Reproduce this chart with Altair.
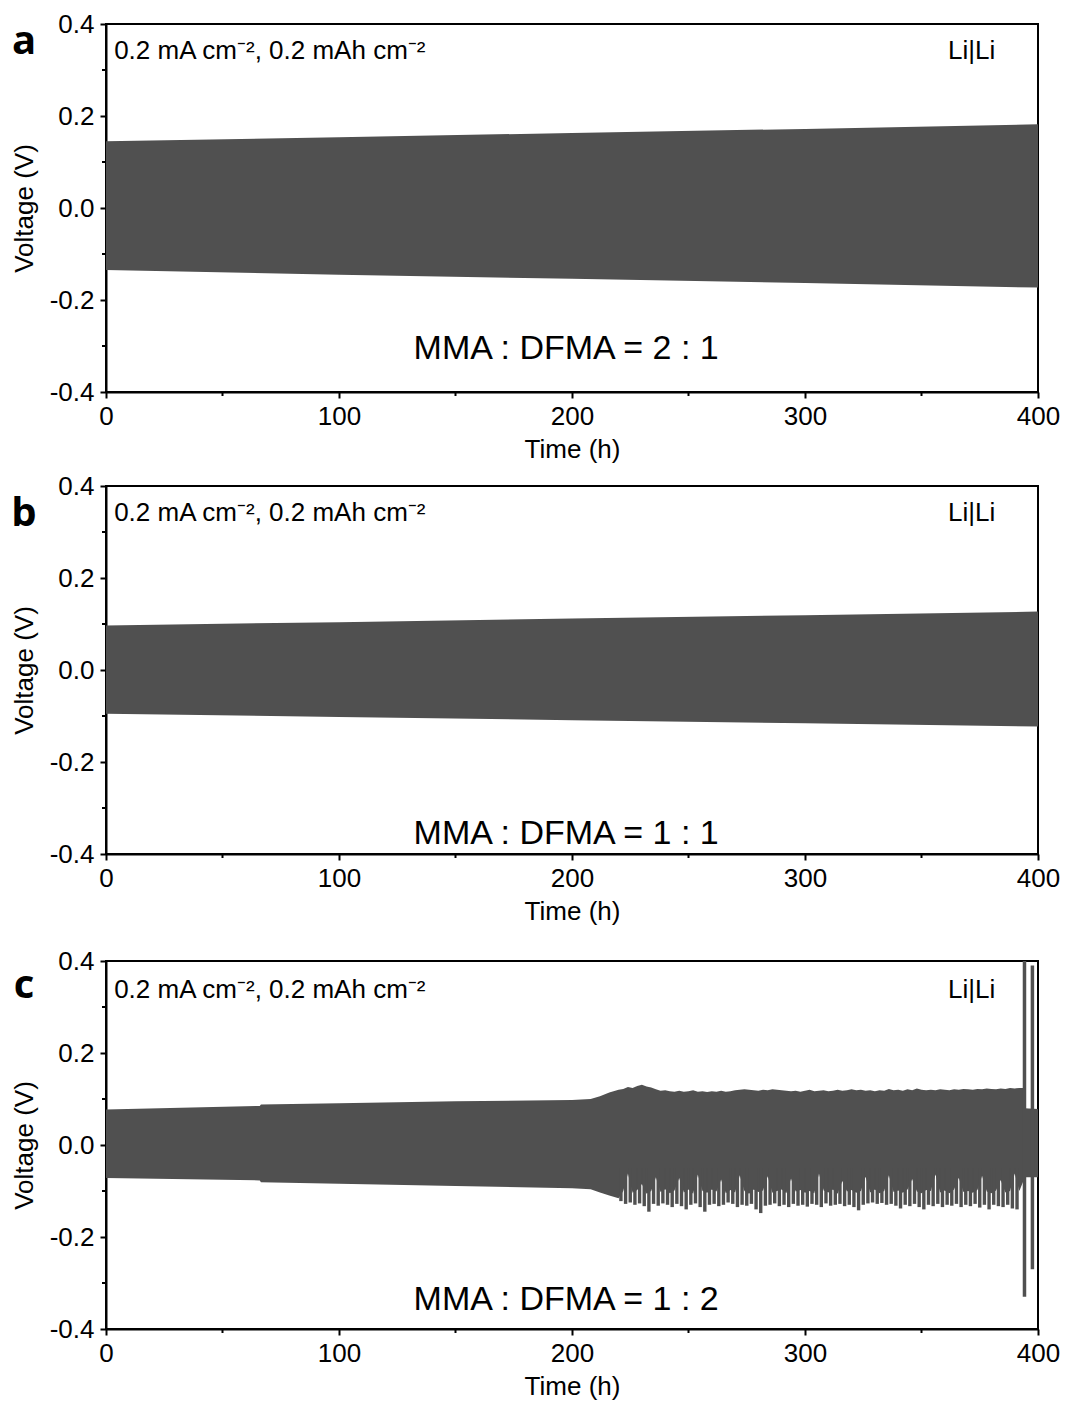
import altair as alt
import pandas as pd

# ---------------- data ----------------
X_TICKS = [0, 100, 200, 300, 400]
Y_TICKS = [-0.4, -0.2, 0.0, 0.2, 0.4]
X_MINOR = [50, 150, 250, 350]
Y_MINOR = [-0.3, -0.1, 0.1, 0.3]

LETTERS = ["a", "b", "c"]
RATIOS = ["MMA : DFMA = 2 : 1", "MMA : DFMA = 1 : 1", "MMA : DFMA = 1 : 2"]
COND = "0.2 mA cm\u207b\u00b2, 0.2 mAh cm\u207b\u00b2"
CELL = "Li|Li"

# panel a envelope
a_t = [0, 100, 200, 300, 400]
a_hi = [0.145, 0.154, 0.163, 0.172, 0.182]
a_lo = [-0.135, -0.145, -0.154, -0.163, -0.173]

# panel b envelope
b_t = [0, 100, 200, 300, 400]
b_hi = [0.097, 0.104, 0.112, 0.119, 0.127]
b_lo = [-0.095, -0.102, -0.109, -0.116, -0.123]

# panel c envelope: smooth part
c_smooth_t = [0, 66, 66.5, 100, 150, 200, 208, 212, 216, 220]
c_smooth_hi = [0.077, 0.085, 0.088, 0.091, 0.095, 0.098, 0.100, 0.106, 0.114, 0.120]
c_smooth_lo = [-0.072, -0.077, -0.081, -0.084, -0.089, -0.094, -0.096, -0.103, -0.110, -0.116]

# panel c: per-cycle maxima after 220 h (every 2 h, 222 ... 392)
c_cyc_t = list(range(222, 393, 2))
c_cyc_hi = [0.122, 0.126, 0.124, 0.128, 0.131, 0.127, 0.125, 0.121, 0.118, 0.119,
            0.117, 0.116, 0.118, 0.116, 0.117, 0.119, 0.116, 0.117, 0.115, 0.117,
            0.116, 0.118, 0.116, 0.117, 0.119, 0.120, 0.121, 0.120, 0.119, 0.118,
            0.120, 0.119, 0.121, 0.120, 0.119, 0.118, 0.117, 0.118, 0.116, 0.118,
            0.120, 0.117, 0.118, 0.119, 0.117, 0.118, 0.120, 0.118, 0.119, 0.121,
            0.119, 0.120, 0.118, 0.119, 0.117, 0.119, 0.118, 0.122, 0.119, 0.120,
            0.118, 0.121, 0.119, 0.123, 0.120, 0.119, 0.120, 0.119, 0.121, 0.120,
            0.119, 0.121, 0.120, 0.122, 0.121, 0.120, 0.122, 0.121, 0.123, 0.122,
            0.121, 0.123, 0.122, 0.124, 0.123, 0.124]
# lower edge of the dense core between the minima teeth
c_cyc_lo = [-0.100, -0.062, -0.104, -0.098, -0.085, -0.106, -0.100, -0.070, -0.102, -0.096,
            -0.105, -0.099, -0.072, -0.103, -0.097, -0.106, -0.064, -0.100, -0.104, -0.097,
            -0.101, -0.075, -0.105, -0.098, -0.103, -0.066, -0.100, -0.106, -0.097, -0.102,
            -0.099, -0.068, -0.104, -0.100, -0.097, -0.105, -0.073, -0.101, -0.098, -0.104,
            -0.100, -0.105, -0.062, -0.099, -0.103, -0.097, -0.106, -0.078, -0.101, -0.098,
            -0.104, -0.100, -0.069, -0.103, -0.097, -0.105, -0.100, -0.066, -0.102, -0.099,
            -0.104, -0.097, -0.074, -0.101, -0.105, -0.098, -0.100, -0.064, -0.103, -0.099,
            -0.105, -0.097, -0.071, -0.102, -0.100, -0.104, -0.098, -0.067, -0.101, -0.105,
            -0.099, -0.076, -0.103, -0.100, -0.062, -0.100]

# panel c: envelope after the last regular cycle
c_end_t = [393.6, 394.2, 400]
c_end_hi = [0.124, 0.080, 0.078]
c_end_lo = [-0.080, -0.070, -0.070]

# panel c: per-cycle minima (teeth) after 220 h
c_tooth_t = list(range(221, 392, 2))
c_tooth_min = [-0.122, -0.128, -0.125, -0.130, -0.127, -0.133, -0.145, -0.128, -0.132, -0.127,
               -0.130, -0.135, -0.128, -0.133, -0.140, -0.130, -0.127, -0.135, -0.145, -0.130,
               -0.128, -0.133, -0.130, -0.125, -0.128, -0.135, -0.130, -0.132, -0.128, -0.140,
               -0.148, -0.132, -0.130, -0.127, -0.133, -0.130, -0.135, -0.128, -0.132, -0.130,
               -0.134, -0.128, -0.130, -0.135, -0.127, -0.132, -0.130, -0.128, -0.133, -0.130,
               -0.135, -0.142, -0.130, -0.127, -0.125, -0.128, -0.126, -0.130, -0.128, -0.132,
               -0.138, -0.130, -0.133, -0.128, -0.135, -0.140, -0.130, -0.133, -0.128, -0.135,
               -0.130, -0.132, -0.128, -0.135, -0.130, -0.133, -0.128, -0.136, -0.130, -0.140,
               -0.130, -0.133, -0.135, -0.130, -0.138, -0.140]
c_tooth_top = [-0.05] * len(c_tooth_t)

# panel c: final short-circuit spikes
spike_t = [394.2, 397.6]
spike_lo = [-0.33, -0.27]
spike_hi = [0.42, 0.39]

# ---------------- style ----------------
W, H = 932, 368
FONT = "Liberation Sans"
BAND = "#505050"
FS = 26

xscale = alt.Scale(domain=[0, 400], nice=False, zero=False)
yscale = alt.Scale(domain=[-0.4, 0.4], nice=False, zero=False)

xaxis = alt.Axis(values=X_TICKS, title="Time (h)", format="d", grid=False,
                 labelFont=FONT, titleFont=FONT, labelFontSize=FS, titleFontSize=FS,
                 titleFontWeight="normal", labelColor="black", titleColor="black",
                 domainColor="black", domainWidth=2, tickColor="black", tickWidth=2,
                 tickSize=6, labelPadding=5, titlePadding=7, labelFlush=False)
yaxis = alt.Axis(values=Y_TICKS, title="Voltage (V)", grid=False,
                 labelExpr="datum.value < 0 ? '-' + format(-datum.value, '.1f') : format(datum.value, '.1f')",
                 labelFont=FONT, titleFont=FONT, labelFontSize=FS, titleFontSize=FS,
                 titleFontWeight="normal", labelColor="black", titleColor="black",
                 domainColor="black", domainWidth=2, tickColor="black", tickWidth=2,
                 tickSize=6, labelPadding=6, titlePadding=12, labelFlush=False)


def X(field):
    return alt.X(field, type="quantitative", scale=xscale, axis=xaxis)


def Y(field):
    return alt.Y(field, type="quantitative", scale=yscale, axis=yaxis)


def band(t, hi, lo):
    df = pd.DataFrame({"t": t, "hi": hi, "lo": lo})
    return alt.Chart(df).mark_area(color=BAND, clip=True, opacity=1).encode(
        x=X("t"), y=Y("hi"), y2=alt.Y2("lo"))


def minor_ticks():
    ym = alt.Chart(pd.DataFrame({"v": Y_MINOR})).mark_rule(color="black", strokeWidth=2).encode(
        y=Y("v"), x=alt.value(0), x2=alt.value(-4))
    xm = alt.Chart(pd.DataFrame({"t": X_MINOR})).mark_rule(color="black", strokeWidth=2).encode(
        x=X("t"), y=alt.value(H), y2=alt.value(H + 4))
    return [ym, xm]


def texts(idx, ratio_v, top_v, letter_y):
    cond = alt.Chart(pd.DataFrame({"t": [3.5], "v": [top_v], "s": [COND]})).mark_text(
        align="left", baseline="middle", font=FONT, fontSize=FS, color="black").encode(
        x=X("t"), y=Y("v"), text="s:N")
    cell = alt.Chart(pd.DataFrame({"t": [371.5], "v": [top_v], "s": [CELL]})).mark_text(
        align="center", baseline="middle", font=FONT, fontSize=FS, color="black").encode(
        x=X("t"), y=Y("v"), text="s:N")
    ratio = alt.Chart(pd.DataFrame({"t": [197.5], "v": [ratio_v], "s": [RATIOS[idx]]})).mark_text(
        align="center", baseline="middle", font=FONT, fontSize=34, color="black").encode(
        x=X("t"), y=Y("v"), text="s:N")
    letter = alt.Chart(pd.DataFrame({"t": [0], "s": [LETTERS[idx]]})).mark_text(
        align="center", baseline="middle", font="Open Sans", fontWeight="bold",
        fontSize=40, color="black", dx=-82).encode(
        x=X("t"), y=alt.value(letter_y), text="s:N")
    return [cond, cell, ratio, letter]


panel_a = alt.layer(band(a_t, a_hi, a_lo), *minor_ticks(),
                    *texts(0, -0.306, 0.341, 18)).properties(width=W, height=H)

panel_b = alt.layer(band(b_t, b_hi, b_lo), *minor_ticks(),
                    *texts(1, -0.357, 0.341, 28)).properties(width=W, height=H)

teeth = alt.Chart(pd.DataFrame({"t": c_tooth_t, "top": c_tooth_top, "m": c_tooth_min})).mark_rule(
    color=BAND, strokeWidth=3.4, clip=True).encode(
    x=X("t"), y=Y("top"), y2=alt.Y2("m"))
spikes = alt.Chart(pd.DataFrame({"t": spike_t, "lo": spike_lo, "hi": spike_hi})).mark_rule(
    color=BAND, strokeWidth=3.5, clip=True).encode(
    x=X("t"), y=Y("hi"), y2=alt.Y2("lo"))
spacer = alt.Chart(pd.DataFrame({"t": [0]})).mark_rule(color="white", strokeWidth=1).encode(
    x=X("t"), y=alt.value(-25), y2=alt.value(-24))

panel_c = alt.layer(band(c_smooth_t + c_cyc_t + c_end_t,
                         c_smooth_hi + c_cyc_hi + c_end_hi,
                         c_smooth_lo + c_cyc_lo + c_end_lo),
                    teeth, spikes, *minor_ticks(),
                    *texts(2, -0.336, 0.338, 25), spacer).properties(width=W, height=H)

chart = alt.vconcat(panel_a, panel_b, panel_c, spacing=9).properties(
    padding={"left": 2, "top": 2, "right": 0, "bottom": 0}
).configure_view(stroke="black", strokeWidth=2)

chart.save("out.html", embed_options={"renderer": "svg", "actions": False})
